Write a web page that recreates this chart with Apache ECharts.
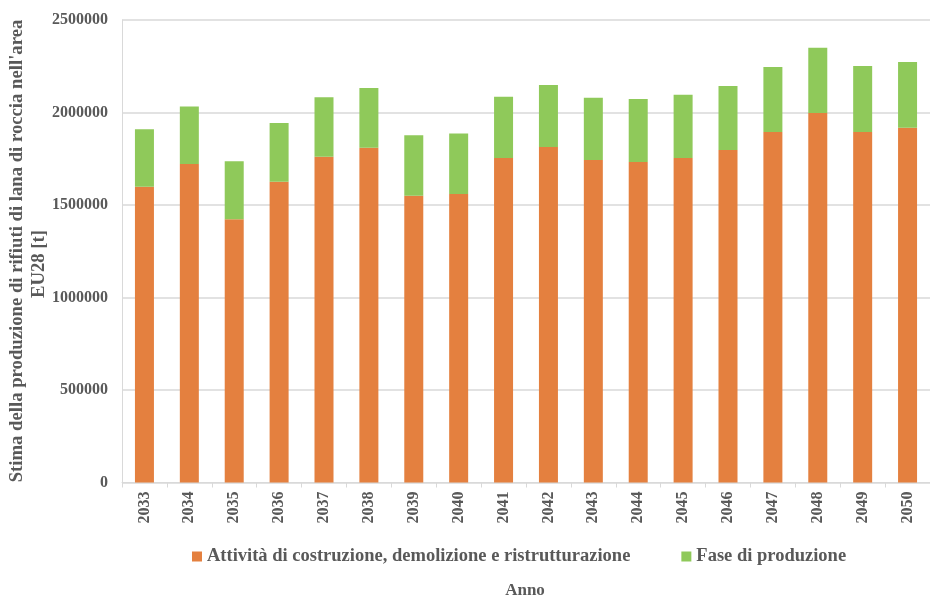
<!DOCTYPE html>
<html>
<head>
<meta charset="utf-8">
<script src="https://cdn.jsdelivr.net/npm/echarts@6/dist/echarts.min.js"></script>
<style>
  html, body { margin: 0; padding: 0; background: #ffffff; }
  #chart { width: 930px; height: 598px; }
</style>
</head>
<body>
<div id="chart"></div>
<script>
// Years on the category axis
const years = ['2033', '2034', '2035', '2036', '2037', '2038', '2039', '2040', '2041',
  '2042', '2043', '2044', '2045', '2046', '2047', '2048', '2049', '2050'];

// Construction, demolition and renovation waste [t]
const costruzione = [1599000, 1722000, 1423000, 1626000, 1761000, 1810000, 1550000, 1559000, 1754000,
  1813000, 1743000, 1732000, 1754000, 1797000, 1895000, 1997000, 1895000, 1918000];

// Production-phase waste [t]
const produzione = [310000, 311000, 313000, 317000, 321000, 322000, 327000, 328000, 331000,
  336000, 337000, 341000, 342000, 346000, 351000, 353000, 356000, 355000];

// Y-axis ticks
const yTicks = [0, 500000, 1000000, 1500000, 2000000, 2500000];

const seriesNames = ['Attività di costruzione, demolizione e ristrutturazione', 'Fase di produzione'];
const FONT = '"Liberation Serif", "Times New Roman", serif';
const TEXT = '#595959';
const GRID = '#d9d9d9';

const chart = echarts.init(document.getElementById('chart'), null, { renderer: 'canvas' });

chart.setOption({
  animation: false,
  backgroundColor: '#ffffff',
  textStyle: { fontFamily: FONT },
  grid: { left: 122, top: 20, width: 819, bottom: 115.5, containLabel: false },
  legend: {
    data: seriesNames,
    left: 187,
    top: 542,
    itemWidth: 10,
    itemHeight: 10,
    itemGap: 51,
    icon: 'rect',
    textStyle: { color: TEXT, fontFamily: FONT, fontWeight: 'bold', fontSize: 18.5 }
  },
  xAxis: {
    type: 'category',
    data: years,
    boundaryGap: true,
    axisLine: { show: true, lineStyle: { color: GRID, width: 1 } },
    axisTick: { show: true, alignWithLabel: false, length: 5, lineStyle: { color: GRID } },
    axisLabel: {
      rotate: 90,
      margin: 9,
      color: TEXT,
      fontFamily: FONT,
      fontWeight: 'bold',
      fontSize: 16
    }
  },
  yAxis: {
    type: 'value',
    min: yTicks[0],
    max: yTicks[yTicks.length - 1],
    interval: yTicks[1] - yTicks[0],
    axisLine: { show: true, lineStyle: { color: GRID, width: 1 } },
    axisTick: { show: false },
    splitLine: { show: true, lineStyle: { color: GRID, width: 1.5 } },
    axisLabel: {
      margin: 14,
      color: TEXT,
      fontFamily: FONT,
      fontWeight: 'bold',
      fontSize: 16,
      formatter: v => String(v)
    }
  },
  graphic: [
    {
      type: 'text',
      x: 17, y: 251,
      rotation: Math.PI / 2,
      style: {
        text: "Stima della produzione di rifiuti di lana di roccia nell'area",
        fill: TEXT, font: 'bold 18.7px ' + FONT,
        align: 'center', verticalAlign: 'middle'
      }
    },
    {
      type: 'text',
      x: 39, y: 264,
      rotation: Math.PI / 2,
      style: {
        text: 'EU28 [t]',
        fill: TEXT, font: 'bold 18.7px ' + FONT,
        align: 'center', verticalAlign: 'middle'
      }
    },
    {
      type: 'text',
      x: 525, y: 591,
      style: {
        text: 'Anno',
        fill: TEXT, font: 'bold 17px ' + FONT,
        align: 'center', verticalAlign: 'middle'
      }
    }
  ],
  series: [
    {
      name: seriesNames[0],
      type: 'bar',
      stack: 'totale',
      barWidth: 19,
      data: costruzione,
      itemStyle: { color: '#E4803F' }
    },
    {
      name: seriesNames[1],
      type: 'bar',
      stack: 'totale',
      barWidth: 19,
      data: produzione,
      itemStyle: { color: '#8FC95A' }
    }
  ]
});
</script>
</body>
</html>
